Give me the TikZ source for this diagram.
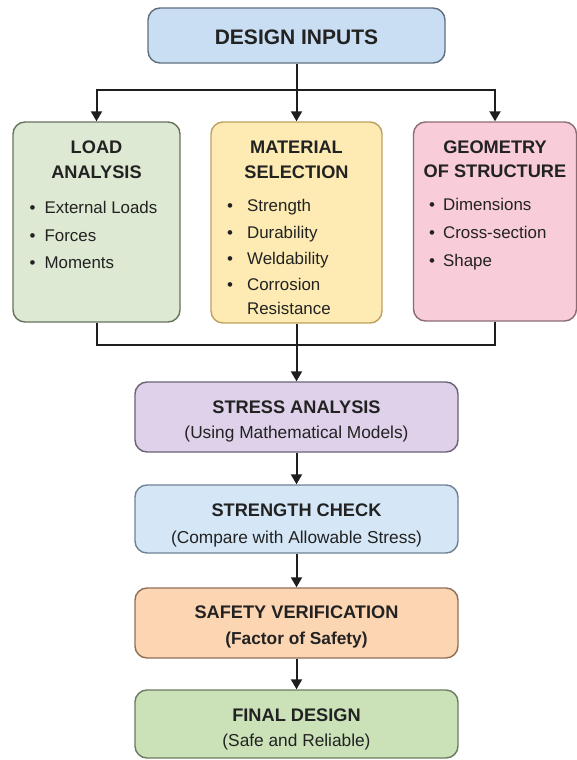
\documentclass[tikz,border=0pt]{standalone}
\usepackage{fontspec}
\setmainfont{Liberation Sans}
\usetikzlibrary{arrows.meta}
\definecolor{txt}{HTML}{222222}
\definecolor{lnc}{HTML}{1E1E1E}
\definecolor{diFill}{HTML}{C9DEF2}\definecolor{diDraw}{HTML}{5F6F80}
\definecolor{ldFill}{HTML}{DDE9D2}\definecolor{ldDraw}{HTML}{66735F}
\definecolor{mtFill}{HTML}{FDEBB3}\definecolor{mtDraw}{HTML}{BFA060}
\definecolor{geFill}{HTML}{F8CDD9}\definecolor{geDraw}{HTML}{8C6B74}
\definecolor{stFill}{HTML}{DED1E9}\definecolor{stDraw}{HTML}{6B6275}
\definecolor{scFill}{HTML}{D5E7F7}\definecolor{scDraw}{HTML}{6F8294}
\definecolor{sfFill}{HTML}{FCD5B2}\definecolor{sfDraw}{HTML}{8E7058}
\definecolor{fdFill}{HTML}{CBE2B8}\definecolor{fdDraw}{HTML}{6B7A60}
\begin{document}
\begin{tikzpicture}[x=1pt,y=-1pt,
  box/.style={draw, rounded corners=12pt, line width=1.4pt, inner sep=0pt},
  bigttl/.style={text=txt, font=\fontsize{21}{24}\selectfont\bfseries, inner sep=0pt, anchor=base},
  ttl/.style={text=txt, font=\fontsize{18.2}{20}\selectfont\bfseries, inner sep=0pt, anchor=base},
  sub/.style={text=txt, font=\fontsize{17.3}{20}\selectfont, inner sep=0pt, anchor=base},
  subb/.style={text=txt, font=\fontsize{17.3}{20}\selectfont\bfseries, inner sep=0pt, anchor=base},
  itm/.style={text=txt, font=\fontsize{16.9}{20}\selectfont, inner sep=0pt, anchor=base west},
  ln/.style={draw=lnc, line width=2pt},
  arr/.style={ln, -{Triangle[length=10pt,width=11pt]}}]
\useasboundingbox (0,0) rectangle (577,760);
\fill[white] (0,0) rectangle (577,760);

% boxes
\node[box, fill=diFill, draw=diDraw, minimum width=297pt, minimum height=55pt] (di) at (296.5,35.5) {};
\node[box, fill=ldFill, draw=ldDraw, minimum width=167pt, minimum height=200pt] (ld) at (96.5,222) {};
\node[box, fill=mtFill, draw=mtDraw, minimum width=171pt, minimum height=201pt] (mt) at (296.5,222.5) {};
\node[box, fill=geFill, draw=geDraw, minimum width=163pt, minimum height=199pt] (ge) at (495,221.5) {};
\node[box, fill=stFill, draw=stDraw, minimum width=323pt, minimum height=70pt] (st) at (296.5,417) {};
\node[box, fill=scFill, draw=scDraw, minimum width=323pt, minimum height=68pt] (sc) at (296.5,519) {};
\node[box, fill=sfFill, draw=sfDraw, minimum width=323pt, minimum height=70pt] (sf) at (296.5,623) {};
\node[box, fill=fdFill, draw=fdDraw, minimum width=323pt, minimum height=68pt] (fd) at (296.5,724) {};

% texts
\node[bigttl] (diT) at (296.5,44.5) {DESIGN INPUTS};

\node[ttl] (ldT1) at (96.5,153) {LOAD};
\node[ttl] (ldT2) at (96.5,178) {ANALYSIS};
\node[itm] (ld1) at (29.5,213) {•\hspace{9pt}External Loads};
\node[itm] (ld2) at (29.5,241) {•\hspace{9pt}Forces};
\node[itm] (ld3) at (29.5,268) {•\hspace{9pt}Moments};

\node[ttl] (mtT1) at (296.5,153) {MATERIAL};
\node[ttl] (mtT2) at (296.5,178) {SELECTION};
\node[itm] (mt1) at (227,211) {•\hspace{14pt}Strength};
\node[itm] (mt2) at (227,238) {•\hspace{14pt}Durability};
\node[itm] (mt3) at (227,264) {•\hspace{14pt}Weldability};
\node[itm] (mt4) at (227,290) {•\hspace{14pt}Corrosion};
\node[itm] (mt5) at (227,314) {\phantom{•}\hspace{14pt}Resistance};

\node[ttl] (geT1) at (495,153) {GEOMETRY};
\node[ttl] (geT2) at (495,177) {OF STRUCTURE};
\node[itm] (ge1) at (429,210) {•\hspace{8pt}Dimensions};
\node[itm] (ge2) at (429,238) {•\hspace{8pt}Cross-section};
\node[itm] (ge3) at (429,266) {•\hspace{8pt}Shape};

\node[ttl] (stT) at (296.5,413.5) {STRESS ANALYSIS};
\node[sub] (stS) at (296.5,438.5) {(Using Mathematical Models)};
\node[ttl] (scT) at (296.5,516.5) {STRENGTH CHECK};
\node[sub] (scS) at (296.5,543.5) {(Compare with Allowable Stress)};
\node[ttl] (sfT) at (296.5,618.5) {SAFETY VERIFICATION};
\node[subb] (sfS) at (296.5,644.5) {(Factor of Safety)};
\node[ttl] (fdT) at (296.5,721.5) {FINAL DESIGN};
\node[sub] (fdS) at (296.5,746.5) {(Safe and Reliable)};

% connectors
\coordinate (j1) at (296.5,90);
\coordinate (j2) at (296.5,345);
\draw[ln] (di.south) -- (j1);
\draw[arr] (j1) -| (ld.north);
\draw[arr] (j1) -- (mt.north);
\draw[arr] (j1) -| (ge.north);
\draw[ln] (ld.south) |- (j2);
\draw[ln] (ge.south) |- (j2);
\draw[arr] (mt.south) -- (st.north);
\draw[arr] (st.south) -- (sc.north);
\draw[arr] (sc.south) -- (sf.north);
\draw[arr] (sf.south) -- (fd.north);
\end{tikzpicture}
\end{document}
